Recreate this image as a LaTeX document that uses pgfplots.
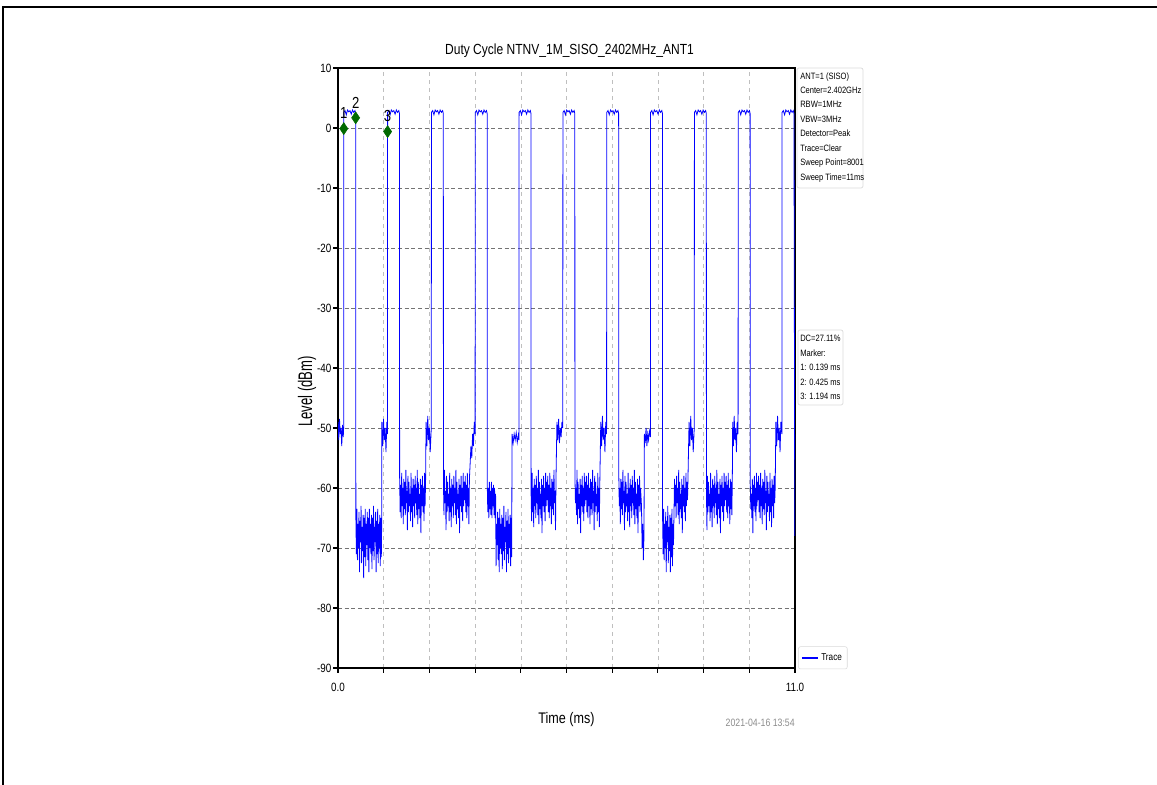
\documentclass[border=0pt]{standalone}
\usepackage{pgfplots}
\pgfplotsset{compat=1.18}
\usepackage{graphicx}
\usepackage{fontspec}
\setmainfont{Liberation Sans}[FakeStretch=0.82]
\newfontfamily\ylfont{Liberation Sans}
\definecolor{tracecol}{RGB}{0,0,255}
\definecolor{mk}{RGB}{0,105,0}
\begin{document}
\begin{tikzpicture}
\useasboundingbox (0,0) rectangle (867.75pt,588.75pt);
\begin{scope}[x=0.75pt,y=0.75pt]
\draw[line width=1.5pt] (3.3,0) -- (3.3,777.5) -- (1157,777.5);
\node[font=\fontsize{11}{13}\selectfont] at (569.5,734) {Duty Cycle NTNV\_1M\_SISO\_2402MHz\_ANT1};
\node[font=\fontsize{11.5}{13}\selectfont] at (566.5,65) {Time (ms)};
\node[rotate=90,font=\ylfont\fontsize{9.8}{11}\selectfont] at (307,393.5) {\scalebox{1}[1.5]{Level (dBm)}};
\node[anchor=base east,inner sep=0pt,text=black!45,font=\fontsize{8}{9}\selectfont] at (795,58) {2021-04-16 13:54};
\draw[black!15,rounded corners=1.5pt,line width=0.5pt] (797,717) rectangle (863,597);
\begin{scope}[every node/.style={anchor=base west,inner sep=0pt,font=\fontsize{6.9}{8}\selectfont}]
\node at (800,705) {ANT=1 (SISO)};
\node at (800,691.5) {Center=2.402GHz};
\node at (800,677) {RBW=1MHz};
\node at (800,662.5) {VBW=3MHz};
\node at (800,648) {Detector=Peak};
\node at (800,633.5) {Trace=Clear};
\node at (800,619) {Sweep Point=8001};
\node at (800,604.5) {Sweep Time=11ms};
\node at (800,443) {DC=27.11\%};
\node at (800,428.5) {Marker:};
\node at (800,414) {1: 0.139 ms};
\node at (800,399.5) {2: 0.425 ms};
\node at (800,385) {3: 1.194 ms};
\end{scope}
\draw[black!15,rounded corners=1.5pt,line width=0.5pt] (798,455) rectangle (843,380);
\end{scope}
\begin{axis}[
  at={(253.5pt,87.75pt)}, anchor=south west,
  scale only axis, width=342.75pt, height=450pt,
  xmin=0, xmax=11, ymin=-90, ymax=10,
  xtick={0,1.1,2.2,3.3,4.4,5.5,6.6,7.7,8.8,9.9,11},
  xticklabels={0.0,,,,,,,,,,11.0},
  ytick={-90,-80,-70,-60,-50,-40,-30,-20,-10,0,10},
  tick align=outside, tick pos=left,
  major tick length=3.75pt,
  every tick/.style={black,line width=0.8pt},
  axis line style={black,line width=1.2pt},
  grid=major,
  x grid style={dashed,black!25,line width=0.4pt},
  y grid style={densely dashed,black!55,line width=0.4pt},
  ticklabel style={font=\fontsize{9}{10}\selectfont},
  /pgf/number format/assume math mode=true,
  yticklabel style={inner xsep=1pt},
  xticklabel style={yshift=-4pt},
  legend style={at={(1.007,-0.002)}, anchor=south west, draw=black!15, rounded corners=1.5pt,
    font=\fontsize{7.5}{8}\selectfont, inner xsep=2pt, inner ysep=3pt},
  legend cell align=left,
  legend image code/.code={\draw[#1,line width=1.1pt] (0pt,0pt) -- (12pt,0pt);},
]
\addplot[color=tracecol, line width=0.6pt, line join=miter] coordinates {
(0.000,-49) (0.018,-52) (0.036,-48.5) (0.054,-51) (0.072,-50) (0.090,-53) (0.108,-49.5) (0.126,-51.5) (0.136,-50)
(0.139,2.6) (0.169,2.9) (0.199,2.2) (0.229,3.0) (0.259,2.7) (0.289,2.9) (0.319,2.3) (0.349,3.0) (0.379,2.6) (0.409,2.9) (0.425,2.4)
(0.4300,-65) (0.4425,-71) (0.4550,-63.5) (0.4675,-72) (0.4800,-66) (0.4925,-70) (0.5050,-64) (0.5175,-74) (0.5300,-65.5) (0.5425,-69) (0.5550,-63) (0.5675,-72.5) (0.5800,-66.5) (0.5925,-70.5) (0.6050,-64.5) (0.6175,-75) (0.6300,-65) (0.6425,-71.5) (0.6550,-63.5) (0.6675,-73) (0.6800,-66) (0.6925,-69.5) (0.7050,-64) (0.7175,-72) (0.7300,-65) (0.7425,-74) (0.7550,-63.5) (0.7675,-70) (0.7800,-66) (0.7925,-71) (0.8050,-64.5) (0.8175,-73.5) (0.8300,-65) (0.8425,-70.5) (0.8550,-63) (0.8675,-72) (0.8800,-66.5) (0.8925,-69) (0.9050,-64) (0.9175,-74) (0.9300,-65.5) (0.9425,-71) (0.9550,-63.5) (0.9675,-72.5) (0.9800,-66) (0.9925,-70) (1.0050,-64.5) (1.0175,-73) (1.0300,-65) (1.0425,-71.5) (1.050,-67)
(1.055,-49) (1.075,-53) (1.095,-48.5) (1.115,-52) (1.135,-50) (1.155,-54) (1.175,-49) (1.190,-51)
(1.194,2.6) (1.224,2.9) (1.254,2.2) (1.284,3.0) (1.314,2.7) (1.344,2.9) (1.374,2.3) (1.404,3.0) (1.434,2.6) (1.464,2.9) (1.480,2.4)
(1.4830,-58) (1.4955,-64) (1.5080,-59.5) (1.5205,-65) (1.5330,-57.5) (1.5455,-63) (1.5580,-60) (1.5705,-66) (1.5830,-58.5) (1.5955,-63.5) (1.6080,-59) (1.6205,-64.5) (1.6330,-57) (1.6455,-62.5) (1.6580,-60.5) (1.6705,-67) (1.6830,-58) (1.6955,-64) (1.7080,-59) (1.7205,-63) (1.7330,-61) (1.7455,-65.5) (1.7580,-57.5) (1.7705,-64) (1.7830,-60) (1.7955,-66.5) (1.8080,-58.5) (1.8205,-63) (1.8330,-59.5) (1.8455,-65) (1.8580,-58) (1.8705,-62.5) (1.8830,-60) (1.8955,-64.5) (1.9080,-57) (1.9205,-66) (1.9330,-59) (1.9455,-63.5) (1.9580,-61) (1.9705,-65) (1.9830,-58.5) (1.9955,-67.5) (2.0080,-59.5) (2.0205,-63) (2.0330,-58) (2.0455,-64) (2.0580,-60) (2.0705,-65.5) (2.0830,-57.5) (2.0955,-63) (2.1080,-59)
(2.120,-49) (2.140,-53) (2.160,-48) (2.180,-52) (2.200,-50) (2.220,-54) (2.245,-50)
(2.249,2.6) (2.279,2.9) (2.309,2.2) (2.339,3.0) (2.369,2.7) (2.399,2.9) (2.429,2.3) (2.459,3.0) (2.489,2.6) (2.519,2.9) (2.535,2.4)
(2.5380,-59) (2.5505,-64.5) (2.5630,-57) (2.5755,-62.5) (2.5880,-60.5) (2.6005,-67) (2.6130,-58) (2.6255,-64) (2.6380,-59) (2.6505,-63) (2.6630,-61) (2.6755,-65.5) (2.6880,-57.5) (2.7005,-64) (2.7130,-60) (2.7255,-66.5) (2.7380,-58.5) (2.7505,-63) (2.7630,-59.5) (2.7755,-65) (2.7880,-58) (2.8005,-62.5) (2.8130,-60) (2.8255,-64.5) (2.8380,-57) (2.8505,-66) (2.8630,-59) (2.8755,-63.5) (2.8880,-61) (2.9005,-65) (2.9130,-58.5) (2.9255,-67.5) (2.9380,-59.5) (2.9505,-63) (2.9630,-58) (2.9755,-64) (2.9880,-60) (3.0005,-65.5) (3.0130,-57.5) (3.0255,-63) (3.0380,-59) (3.0505,-62) (3.0630,-58) (3.0755,-64) (3.0880,-59.5) (3.1005,-65) (3.1130,-57.5) (3.1255,-63) (3.1380,-60) (3.1505,-66) (3.1630,-58.5)
(3.180,-56) (3.200,-53) (3.220,-55) (3.240,-51) (3.260,-53) (3.280,-49) (3.300,-51)
(3.304,2.6) (3.334,2.9) (3.364,2.2) (3.394,3.0) (3.424,2.7) (3.454,2.9) (3.484,2.3) (3.514,3.0) (3.544,2.6) (3.574,2.9) (3.590,2.4)
(3.5930,-59.5) (3.6055,-64) (3.6180,-60) (3.6305,-65) (3.6430,-59) (3.6555,-63.5) (3.6680,-60.5) (3.6805,-64.5) (3.6930,-59) (3.7055,-65) (3.7180,-60) (3.7305,-63) (3.7430,-59.5) (3.7555,-64.5) (3.7680,-60) (3.7805,-65) (3.7930,-61)
(3.8050,-73) (3.8175,-66) (3.8300,-69.5) (3.8425,-64) (3.8550,-72) (3.8675,-65) (3.8800,-74) (3.8925,-63.5) (3.9050,-70) (3.9175,-66) (3.9300,-71) (3.9425,-64.5) (3.9550,-73.5) (3.9675,-65) (3.9800,-70.5) (3.9925,-63) (4.0050,-72) (4.0175,-66.5) (4.0300,-69) (4.0425,-64) (4.0550,-74) (4.0675,-65.5) (4.0800,-71) (4.0925,-63.5) (4.1050,-72.5) (4.1175,-66) (4.1300,-70) (4.1425,-64.5) (4.1550,-73) (4.1675,-65) (4.1800,-71.5)
(4.190,-51) (4.215,-52.5) (4.240,-51) (4.265,-52) (4.290,-50.8) (4.315,-52.4) (4.340,-51.2) (4.355,-52)
(4.359,2.6) (4.389,2.9) (4.419,2.2) (4.449,3.0) (4.479,2.7) (4.509,2.9) (4.539,2.3) (4.569,3.0) (4.599,2.6) (4.629,2.9) (4.645,2.4)
(4.6480,-61) (4.6605,-65.5) (4.6730,-57.5) (4.6855,-64) (4.6980,-60) (4.7105,-66.5) (4.7230,-58.5) (4.7355,-63) (4.7480,-59.5) (4.7605,-65) (4.7730,-58) (4.7855,-62.5) (4.7980,-60) (4.8105,-64.5) (4.8230,-57) (4.8355,-66) (4.8480,-59) (4.8605,-63.5) (4.8730,-61) (4.8855,-65) (4.8980,-58.5) (4.9105,-67.5) (4.9230,-59.5) (4.9355,-63) (4.9480,-58) (4.9605,-64) (4.9730,-60) (4.9855,-65.5) (4.9980,-57.5) (5.0105,-63) (5.0230,-59) (5.0355,-62) (5.0480,-58) (5.0605,-64) (5.0730,-59.5) (5.0855,-65) (5.0980,-57.5) (5.1105,-63) (5.1230,-60) (5.1355,-66) (5.1480,-58.5) (5.1605,-63.5) (5.1730,-59) (5.1855,-64.5) (5.1980,-57) (5.2105,-62.5) (5.2230,-60.5) (5.2355,-67) (5.2480,-58)
(5.270,-49) (5.290,-52) (5.310,-48.5) (5.330,-52.5) (5.350,-50) (5.370,-51.5) (5.390,-49) (5.410,-50)
(5.414,2.6) (5.444,2.9) (5.474,2.2) (5.504,3.0) (5.534,2.7) (5.564,2.9) (5.594,2.3) (5.624,3.0) (5.654,2.6) (5.684,2.9) (5.700,2.4)
(5.7030,-58) (5.7155,-62.5) (5.7280,-60) (5.7405,-64.5) (5.7530,-57) (5.7655,-66) (5.7780,-59) (5.7905,-63.5) (5.8030,-61) (5.8155,-65) (5.8280,-58.5) (5.8405,-67.5) (5.8530,-59.5) (5.8655,-63) (5.8780,-58) (5.8905,-64) (5.9030,-60) (5.9155,-65.5) (5.9280,-57.5) (5.9405,-63) (5.9530,-59) (5.9655,-62) (5.9780,-58) (5.9905,-64) (6.0030,-59.5) (6.0155,-65) (6.0280,-57.5) (6.0405,-63) (6.0530,-60) (6.0655,-66) (6.0780,-58.5) (6.0905,-63.5) (6.1030,-59) (6.1155,-64.5) (6.1280,-57) (6.1405,-62.5) (6.1530,-60.5) (6.1655,-67) (6.1780,-58) (6.1905,-64) (6.2030,-59) (6.2155,-63) (6.2280,-61) (6.2405,-65.5) (6.2530,-57.5) (6.2655,-64) (6.2780,-60) (6.2905,-66.5) (6.3030,-58.5)
(6.325,-49) (6.345,-53) (6.365,-48) (6.385,-52) (6.405,-50) (6.425,-54) (6.445,-49) (6.465,-51)
(6.469,2.6) (6.499,2.9) (6.529,2.2) (6.559,3.0) (6.589,2.7) (6.619,2.9) (6.649,2.3) (6.679,3.0) (6.709,2.6) (6.739,2.9) (6.755,2.4)
(6.7580,-57.5) (6.7705,-63) (6.7830,-60) (6.7955,-66) (6.8080,-58.5) (6.8205,-63.5) (6.8330,-59) (6.8455,-64.5) (6.8580,-57) (6.8705,-62.5) (6.8830,-60.5) (6.8955,-67) (6.9080,-58) (6.9205,-64) (6.9330,-59) (6.9455,-63) (6.9580,-61) (6.9705,-65.5) (6.9830,-57.5) (6.9955,-64) (7.0080,-60) (7.0205,-66.5) (7.0330,-58.5) (7.0455,-63) (7.0580,-59.5) (7.0705,-65) (7.0830,-58) (7.0955,-62.5) (7.1080,-60) (7.1205,-64.5) (7.1330,-57) (7.1455,-66) (7.1580,-59) (7.1705,-63.5) (7.1830,-61) (7.1955,-65) (7.2080,-58.5) (7.2205,-67.5) (7.2330,-59.5) (7.2455,-63) (7.2580,-58) (7.2705,-64) (7.2830,-60)
(7.305,-63) (7.320,-70) (7.335,-66) (7.350,-72) (7.365,-68)
(7.375,-51) (7.395,-52.5) (7.415,-50) (7.435,-53) (7.455,-51) (7.475,-52) (7.495,-50.5) (7.520,-51.5)
(7.524,2.6) (7.554,2.9) (7.584,2.2) (7.614,3.0) (7.644,2.7) (7.674,2.9) (7.704,2.3) (7.734,3.0) (7.764,2.6) (7.794,2.9) (7.810,2.4)
(7.8130,-65) (7.8255,-71) (7.8380,-63.5) (7.8505,-72) (7.8630,-66) (7.8755,-70) (7.8880,-64) (7.9005,-74) (7.9130,-65.5) (7.9255,-69) (7.9380,-63) (7.9505,-72.5) (7.9630,-66.5) (7.9755,-70.5) (7.9880,-64.5) (8.0005,-74) (8.0130,-65) (8.0255,-71.5) (8.0380,-63.5) (8.0505,-73) (8.0630,-66) (8.0755,-69.5) (8.0880,-64)
(8.1000,-58.5) (8.1125,-63) (8.1250,-59.5) (8.1375,-65) (8.1500,-58) (8.1625,-62.5) (8.1750,-60) (8.1875,-64.5) (8.2000,-57) (8.2125,-66) (8.2250,-59) (8.2375,-63.5) (8.2500,-61) (8.2625,-65) (8.2750,-58.5) (8.2875,-67.5) (8.3000,-59.5) (8.3125,-63) (8.3250,-58) (8.3375,-64) (8.3500,-60) (8.3625,-65.5) (8.3750,-57.5) (8.3875,-63) (8.4000,-59) (8.4125,-62) (8.4250,-58)
(8.450,-49) (8.470,-53) (8.490,-48) (8.510,-52) (8.530,-50) (8.550,-54) (8.575,-50)
(8.579,2.6) (8.609,2.9) (8.639,2.2) (8.669,3.0) (8.699,2.7) (8.729,2.9) (8.759,2.3) (8.789,3.0) (8.819,2.6) (8.849,2.9) (8.865,2.4)
(8.8680,-60.5) (8.8805,-67) (8.8930,-58) (8.9055,-64) (8.9180,-59) (8.9305,-63) (8.9430,-61) (8.9555,-65.5) (8.9680,-57.5) (8.9805,-64) (8.9930,-60) (9.0055,-66.5) (9.0180,-58.5) (9.0305,-63) (9.0430,-59.5) (9.0555,-65) (9.0680,-58) (9.0805,-62.5) (9.0930,-60) (9.1055,-64.5) (9.1180,-57) (9.1305,-66) (9.1430,-59) (9.1555,-63.5) (9.1680,-61) (9.1805,-65) (9.1930,-58.5) (9.2055,-67.5) (9.2180,-59.5) (9.2305,-63) (9.2430,-58) (9.2555,-64) (9.2680,-60) (9.2805,-65.5) (9.2930,-57.5) (9.3055,-63) (9.3180,-59) (9.3305,-62) (9.3430,-58) (9.3555,-64) (9.3680,-59.5) (9.3805,-65) (9.3930,-57.5) (9.4055,-63) (9.4180,-60) (9.4305,-66) (9.4430,-58.5) (9.4555,-63.5) (9.4680,-59) (9.4805,-64.5) (9.4930,-57)
(9.500,-49) (9.518,-53) (9.536,-48) (9.554,-52) (9.572,-50) (9.590,-54) (9.608,-49) (9.630,-51)
(9.634,2.6) (9.664,2.9) (9.694,2.2) (9.724,3.0) (9.754,2.7) (9.784,2.9) (9.814,2.3) (9.844,3.0) (9.874,2.6) (9.904,2.9) (9.920,2.4)
(9.9230,-59) (9.9355,-63.5) (9.9480,-61) (9.9605,-65) (9.9730,-58.5) (9.9855,-67.5) (9.9980,-59.5) (10.0105,-63) (10.0230,-58) (10.0355,-64) (10.0480,-60) (10.0605,-65.5) (10.0730,-57.5) (10.0855,-63) (10.0980,-59) (10.1105,-62) (10.1230,-58) (10.1355,-64) (10.1480,-59.5) (10.1605,-65) (10.1730,-57.5) (10.1855,-63) (10.1980,-60) (10.2105,-66) (10.2230,-58.5) (10.2355,-63.5) (10.2480,-59) (10.2605,-64.5) (10.2730,-57) (10.2855,-62.5) (10.2980,-60.5) (10.3105,-67) (10.3230,-58) (10.3355,-64) (10.3480,-59) (10.3605,-63) (10.3730,-61) (10.3855,-65.5) (10.3980,-57.5) (10.4105,-64) (10.4230,-60) (10.4355,-66.5) (10.4480,-58.5) (10.4605,-63) (10.4730,-59.5) (10.4855,-65) (10.4980,-58) (10.5105,-62.5) (10.5230,-60)
(10.540,-49) (10.560,-53) (10.580,-48) (10.600,-52) (10.620,-50) (10.640,-54) (10.660,-49) (10.685,-51)
(10.689,2.6) (10.719,2.9) (10.749,2.2) (10.779,3.0) (10.809,2.7) (10.839,2.9) (10.869,2.3) (10.899,3.0) (10.929,2.6) (10.959,2.9) (10.975,2.4)
(10.995,-68)
};
\addlegendentry{Trace}
\addplot[only marks, mark=diamond*, mark size=4.5pt, mark options={fill=mk,draw=mk,xscale=0.9}, forget plot,
  point meta=explicit symbolic, nodes near coords,
  every node near coord/.append style={font=\fontsize{12}{13}\selectfont, anchor=south, yshift=7pt, inner sep=0pt, text=black}]
  coordinates {(0.139,-0.1) [1] (0.425,1.7) [2] (1.194,-0.6) [3]};
\end{axis}
\end{tikzpicture}
\end{document}
